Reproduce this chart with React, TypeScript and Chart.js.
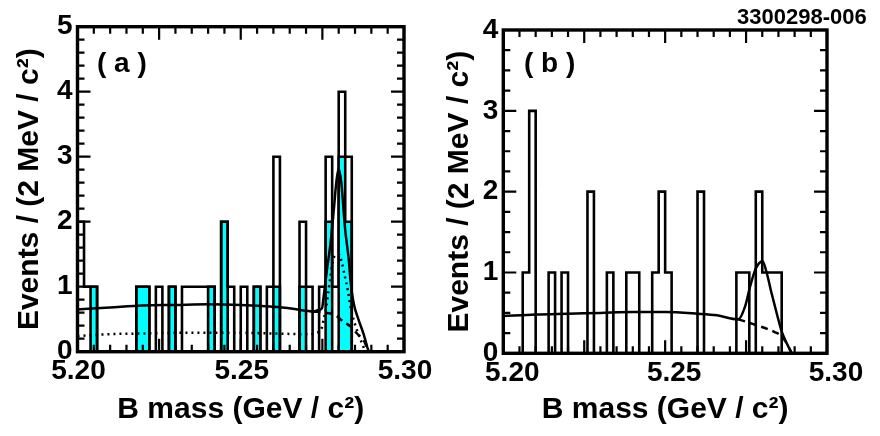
import { useEffect, useRef } from 'react';
import { Chart, registerables } from 'chart.js';

Chart.register(...registerables);

const FONT = "'Liberation Sans', Arial, Helvetica, sans-serif";

// 2 MeV bins from 5.200 GeV
const binLow = 5.2;
const binWidth = 0.002;

// panel (a): all candidates (open) and the filled subset
const countsA = [2, 1, 1, 0, 0, 0, 0, 0, 0, 1, 1, 0, 1, 0, 1, 0, 1, 1, 1, 1, 1, 0, 2, 1, 0, 1, 0, 1, 0, 1, 3, 0, 0, 0, 2, 1, 0, 1, 3, 1, 4, 3, 0, 0, 0, 0, 0, 0, 0, 0];
const filledA = [0, 0, 1, 0, 0, 0, 0, 0, 0, 1, 1, 0, 0, 0, 1, 0, 0, 0, 0, 0, 1, 0, 2, 0, 0, 0, 0, 1, 0, 0, 1, 0, 0, 0, 1, 0, 0, 0, 2, 0, 3, 2, 0, 0, 0, 0, 0, 0, 0, 0];
// panel (b)
const countsB = [0, 0, 0, 1, 3, 0, 0, 1, 0, 1, 0, 0, 0, 2, 0, 0, 1, 0, 0, 1, 1, 0, 0, 1, 2, 1, 0, 0, 0, 0, 2, 0, 0, 0, 0, 0, 1, 1, 0, 2, 1, 1, 1, 0, 0, 0, 0, 0, 0, 0];

// fit curves
const fitMassA = [5.2, 5.21, 5.22, 5.23, 5.24, 5.25, 5.26, 5.266, 5.2723, 5.2738, 5.2749, 5.2754, 5.2764, 5.2775, 5.2785, 5.2793, 5.28, 5.2808, 5.282, 5.2831, 5.2836, 5.2846, 5.2861, 5.2877, 5.2887, 5.2892];
const fitA = [0.65, 0.68, 0.71, 0.72, 0.73, 0.72, 0.69, 0.66, 0.62, 0.64, 0.67, 0.85, 1.26, 1.67, 2.18, 2.62, 2.82, 2.6, 1.87, 1.41, 1.1, 0.74, 0.49, 0.26, 0.08, 0.0];
const bkgMassA = [5.2723, 5.276, 5.279, 5.2815, 5.2836, 5.2856, 5.2877, 5.2892];
const bkgA = [0.62, 0.6, 0.56, 0.46, 0.39, 0.28, 0.17, 0.0];
const subMassA = [5.2, 5.21, 5.22, 5.23, 5.24, 5.25, 5.26, 5.27, 5.2738, 5.2749, 5.2754, 5.2762, 5.2769, 5.2774, 5.2785, 5.28, 5.281, 5.282, 5.2828, 5.2836, 5.285, 5.2861, 5.2871, 5.2882];
const subFitA = [0.24, 0.27, 0.28, 0.29, 0.29, 0.29, 0.28, 0.27, 0.3, 0.38, 0.5, 0.69, 0.95, 1.13, 1.45, 1.5, 1.36, 1.13, 0.95, 0.69, 0.42, 0.26, 0.13, 0.0];

const fitMassB = [5.2, 5.21, 5.22, 5.23, 5.24, 5.25, 5.26, 5.266, 5.2726, 5.2747, 5.2762, 5.278, 5.2801, 5.2814, 5.2829, 5.2845, 5.286, 5.2876, 5.2891];
const fitB = [0.46, 0.48, 0.49, 0.5, 0.51, 0.51, 0.49, 0.47, 0.42, 0.58, 0.82, 1.05, 1.14, 0.99, 0.74, 0.49, 0.27, 0.12, 0.0];
const bkgMassB = [5.2726, 5.275, 5.278, 5.281, 5.284, 5.286, 5.2876, 5.2891];
const bkgB = [0.42, 0.39, 0.35, 0.31, 0.26, 0.21, 0.12, 0.0];

const xTickValues = [5.2, 5.25, 5.3];
const xTickLabels = ['5.20', '5.25', '5.30'];

const xMinorStep = 0.005;

const steps = (counts: number[]) => [
  { x: binLow, y: 0 },
  ...counts.map((c, i) => ({ x: binLow + i * binWidth, y: c })),
  { x: binLow + counts.length * binWidth, y: 0 },
];

const pairs = (xs: number[], ys: number[]) => xs.map((x, i) => ({ x, y: ys[i] }));

// frame with inward ticks on all four sides
const frame = {
  id: 'frame',
  afterDatasetsDraw(chart: any, _args: any, opts: any) {
    const { ctx, chartArea } = chart;
    const { left, right, top, bottom } = chartArea;
    const xs = chart.scales.x;
    const ys = chart.scales.y;
    ctx.save();
    ctx.strokeStyle = '#000';
    ctx.lineWidth = 2.2;
    ctx.beginPath();
    const nx = Math.round((xs.max - xs.min) / xMinorStep);
    for (let i = 0; i <= nx; i++) {
      const px = xs.getPixelForValue(xs.min + i * xMinorStep);
      const len = i % 5 === 0 ? 13 : 7;
      ctx.moveTo(px, top);
      ctx.lineTo(px, top + len);
      ctx.moveTo(px, bottom);
      ctx.lineTo(px, bottom - len);
    }
    const ny = Math.round((ys.max - ys.min) / opts.yMinor);
    const perMajor = Math.round(1 / opts.yMinor);
    for (let i = 0; i <= ny; i++) {
      const py = ys.getPixelForValue(ys.min + i * opts.yMinor);
      const len = i % perMajor === 0 ? 13 : 7;
      ctx.moveTo(left, py);
      ctx.lineTo(left + len, py);
      ctx.moveTo(right, py);
      ctx.lineTo(right - len, py);
    }
    ctx.stroke();
    ctx.lineWidth = 3.4;
    ctx.strokeRect(left, top, right - left, bottom - top);
    ctx.restore();
  },
};

interface Curve {
  mass: number[];
  values: number[];
  dash: number[];
}

interface PanelProps {
  counts: number[];
  filled?: number[];
  curves: Curve[];
  yMax: number;
  yMinor: number;
  padTop: number;
  padRight: number;
  yAxisWidth: number;
  xAxisHeight: number;
  yTitlePad: number;
  labelShift: number;
}

const Panel = (props: PanelProps) => {
  const ref = useRef<HTMLCanvasElement>(null);
  const chart = useRef<Chart>();

  useEffect(() => {
    if (!ref.current) return;
    const datasets: any[] = props.curves.map((c) => ({
      data: pairs(c.mass, c.values),
      borderColor: '#000',
      borderWidth: 2.5,
      borderDash: c.dash,
      pointRadius: 0,
      fill: false,
      cubicInterpolationMode: 'monotone',
      order: 1,
    }));
    datasets.push({
      data: steps(props.counts),
      stepped: true,
      borderColor: '#000',
      borderWidth: 2.6,
      borderJoinStyle: 'miter',
      pointRadius: 0,
      fill: false,
      order: 2,
    });
    if (props.filled) {
      datasets.push({
        data: steps(props.filled),
        stepped: true,
        borderColor: '#000',
        borderWidth: 2.6,
        borderJoinStyle: 'miter',
        backgroundColor: '#00ffff',
        pointRadius: 0,
        fill: 'origin',
        order: 3,
      });
    }

    chart.current = new Chart(ref.current, {
      type: 'line',
      data: { datasets },
      plugins: [frame],
      options: {
        animation: false,
        responsive: false,
        events: [],
        layout: { padding: { top: props.padTop, right: props.padRight, left: 0, bottom: 0 } },
        plugins: {
          legend: { display: false },
          tooltip: { enabled: false },
          frame: { yMinor: props.yMinor },
        } as any,
        scales: {
          x: {
            type: 'linear',
            min: 5.2,
            max: 5.3,
            grid: { display: false, drawTicks: false },
            border: { display: false },
            afterBuildTicks: (s: any) => {
              s.ticks = xTickValues.map((v) => ({ value: v }));
            },
            afterFit: (s: any) => {
              s.height = props.xAxisHeight;
            },
            ticks: {
              autoSkip: false,
              maxRotation: 0,
              padding: 3,
              labelOffset: props.labelShift,
              color: '#000',
              font: { family: FONT, size: 28, weight: 'bold' },
              callback: (_v: any, i: number) => xTickLabels[i],
            },
            title: {
              display: true,
              text: 'B mass (GeV / c²)',
              color: '#000',
              font: { family: FONT, size: 30, weight: 'bold' },
              padding: { top: 0, bottom: 8 },
            },
          },
          y: {
            type: 'linear',
            min: 0,
            max: props.yMax,
            grid: { display: false, drawTicks: false },
            border: { display: false },
            afterFit: (s: any) => {
              s.width = props.yAxisWidth;
            },
            ticks: {
              stepSize: 1,
              padding: 5,
              color: '#000',
              font: { family: FONT, size: 28, weight: 'bold' },
            },
            title: {
              display: true,
              text: 'Events / (2 MeV / c²)',
              color: '#000',
              font: { family: FONT, size: 30, weight: 'bold' },
              padding: { top: props.yTitlePad, bottom: 0 },
            },
          },
        },
      } as any,
    });

    return () => {
      if (chart.current) chart.current.destroy();
    };
  }, [props]);

  return <canvas ref={ref} width={440} height={436} style={{ width: 440, height: 436, display: 'block' }} />;
};

const tagStyle = {
  position: 'absolute' as const,
  fontFamily: FONT,
  fontWeight: 'bold' as const,
  lineHeight: 1,
  color: '#000',
  whiteSpace: 'pre' as const,
};

const panelA: PanelProps = {
  counts: countsA,
  filled: filledA,
  curves: [
    { mass: fitMassA, values: fitA, dash: [] },
    { mass: bkgMassA, values: bkgA, dash: [7, 5] },
    { mass: subMassA, values: subFitA, dash: [2, 4] },
  ],
  yMax: 5,
  yMinor: 0.2,
  padTop: 26.7,
  padRight: 36,
  yAxisWidth: 77.5,
  xAxisHeight: 84.3,
  yTitlePad: 12,
  labelShift: 1,
};

const panelB: PanelProps = {
  counts: countsB,
  curves: [
    { mass: fitMassB, values: fitB, dash: [] },
    { mass: bkgMassB, values: bkgB, dash: [7, 5] },
  ],
  yMax: 4,
  yMinor: 0.25,
  padTop: 30,
  padRight: 53,
  yAxisWidth: 63.3,
  xAxisHeight: 82.7,
  yTitlePad: 2,
  labelShift: 9,
};

export default function App() {
  return (
    <div style={{ position: 'absolute', left: 0, top: 0, width: 880, height: 436, background: '#fff', overflow: 'hidden' }}>
      <div style={{ position: 'absolute', left: 0, top: 0 }}>
        <Panel {...panelA} />
      </div>
      <div style={{ position: 'absolute', left: 440, top: 0 }}>
        <Panel {...panelB} />
      </div>
      <div style={{ ...tagStyle, left: 97, top: 49, fontSize: 28 }}>( a )</div>
      <div style={{ ...tagStyle, left: 524, top: 49, fontSize: 28 }}>( b )</div>
      <div style={{ ...tagStyle, left: 737, top: 6, fontSize: 22 }}>3300298-006</div>
    </div>
  );
}
